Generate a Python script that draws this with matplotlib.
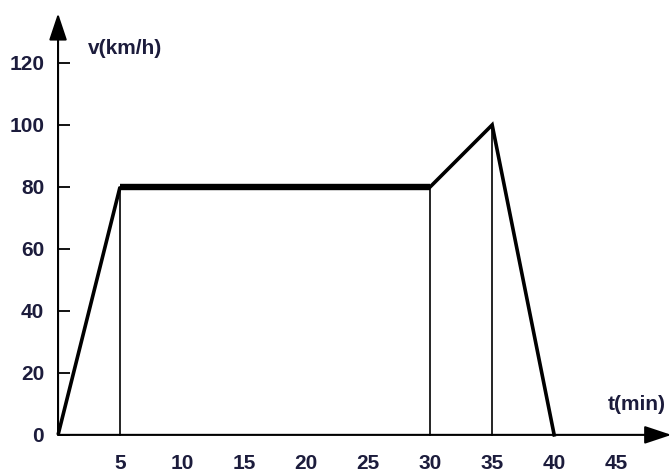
import matplotlib
matplotlib.use('Agg')
import matplotlib.pyplot as plt

# speed profile
t = [0, 5, 30, 35, 40]
v = [0, 80, 80, 100, 0]
# thin guide lines down to the time axis
guide_t = [5, 30, 35]
guide_v = [80, 80, 100]

xticks = [5, 10, 15, 20, 25, 30, 35, 40, 45]
yticks = [0, 20, 40, 60, 80, 100, 120]

txt = '#1c1c3c'
plt.rcParams['font.family'] = ['Liberation Sans', 'DejaVu Sans']

fig = plt.figure(figsize=(6.72, 4.73), dpi=100)
ax = fig.add_axes([0, 0, 1, 1])
ax.set_xlim(-4.68, 49.5)
ax.set_ylim(-12.3, 140.3)

for s in ['top', 'right']:
    ax.spines[s].set_visible(False)
ax.spines['left'].set_position(('data', 0))
ax.spines['bottom'].set_position(('data', 0))
ax.spines['left'].set_visible(False)
ax.spines['bottom'].set_visible(False)

# axes with arrow heads
arrow = dict(arrowstyle='-|>,head_length=0.66,head_width=0.22', color='k',
             lw=1.5, mutation_scale=25, shrinkA=0, shrinkB=0)
ax.annotate('', xy=(0, 136), xytext=(0, 0), arrowprops=arrow,
            annotation_clip=False)
ax.annotate('', xy=(49.45, 0), xytext=(0, 0), arrowprops=arrow,
            annotation_clip=False)

ax.set_yticks(yticks)
ax.set_yticklabels([str(y) for y in yticks])
ax.set_xticks(xticks)
ax.set_xticklabels([str(x) for x in xticks])
ax.tick_params(axis='y', direction='in', length=8.6, width=1.3, pad=10,
               labelsize=15, labelcolor=txt)
ax.tick_params(axis='x', length=0, pad=14, labelsize=15, labelcolor=txt)
for lab in ax.get_xticklabels() + ax.get_yticklabels():
    lab.set_fontweight('bold')

for gt, gv in zip(guide_t, guide_v):
    ax.plot([gt, gt], [0, gv], color='k', lw=1.2)

ax.plot(t[:2], v[:2], color='k', lw=2.6, solid_capstyle='butt')
ax.plot(t[1:3], v[1:3], color='k', lw=4.6, solid_capstyle='butt')
ax.plot(t[2:], v[2:], color='k', lw=2.6, solid_joinstyle='miter')

ax.text(2.4, 124.8, 'v(km/h)', fontsize=15, fontweight='bold', color=txt,
        va='center', ha='left')
ax.text(44.3, 9.7, 't(min)', fontsize=15, fontweight='bold', color=txt,
        va='center', ha='left')

fig.savefig('out.png', dpi=100)
